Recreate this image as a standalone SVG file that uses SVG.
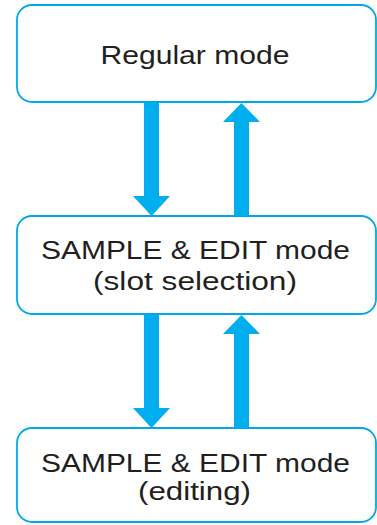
<svg xmlns="http://www.w3.org/2000/svg" width="377" height="525" viewBox="0 0 377 525">
<style>
.box{fill:#fff;stroke:#00a9e6;stroke-width:1.8}
.lbl{font-family:"Liberation Sans",Arial,sans-serif;font-size:26px;fill:#231f20;text-anchor:middle}
.arr{fill:#00aeef}
</style>
<rect width="377" height="525" fill="#fff"/>
<g id="regular">
<rect class="box" x="17" y="5" width="359" height="97" rx="15"/>
<text class="lbl" x="195" y="64" font-size="27" textLength="189" lengthAdjust="spacingAndGlyphs">Regular mode</text>
</g>
<g id="slot">
<rect class="box" x="17" y="216" width="359" height="98" rx="15"/>
<text class="lbl" x="195.5" y="259" textLength="309" lengthAdjust="spacingAndGlyphs">SAMPLE &amp; EDIT mode</text>
<text class="lbl" x="195" y="290" textLength="204" lengthAdjust="spacingAndGlyphs">(slot selection)</text>
</g>
<g id="editing">
<rect class="box" x="17" y="428" width="359" height="94" rx="15"/>
<text class="lbl" x="195.5" y="472" textLength="309" lengthAdjust="spacingAndGlyphs">SAMPLE &amp; EDIT mode</text>
<text class="lbl" x="194.5" y="500" textLength="113" lengthAdjust="spacingAndGlyphs">(editing)</text>
</g>
<g id="connectors">
<polygon class="arr" points="144,103 159,103 159,196 170,196 151.5,216 133,196 144,196"/>
<polygon class="arr" points="234,216 249,216 249,122 260,122 241.5,103 223,122 234,122"/>
<polygon class="arr" points="144,315 159,315 159,408 170,408 151.5,428 133,408 144,408"/>
<polygon class="arr" points="234,428 249,428 249,334 260,334 241.5,315 223,334 234,334"/>
</g>
</svg>
